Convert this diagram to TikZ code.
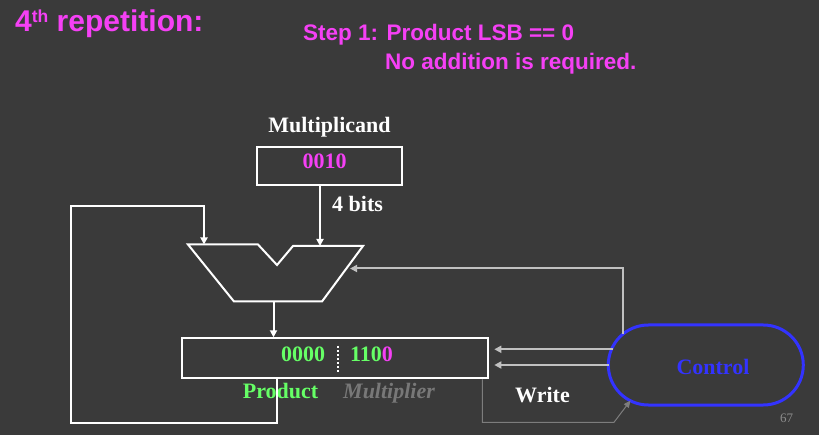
\documentclass[tikz,border=0pt]{standalone}
\usepackage{fontspec}
\setmainfont{Liberation Serif}
\newfontfamily\arialfont{Liberation Sans}
\usetikzlibrary{arrows.meta,shapes.misc}
\definecolor{bgc}{RGB}{58,58,58}
\definecolor{mag}{RGB}{245,64,245}
\definecolor{grn}{RGB}{102,255,102}
\definecolor{lgray}{RGB}{192,192,192}
\definecolor{dgray}{RGB}{125,125,125}
\definecolor{mgray}{RGB}{120,120,120}
\definecolor{ctlblue}{RGB}{51,51,255}
\definecolor{pgray}{RGB}{140,140,140}
\tikzset{
  txt/.style={inner sep=0pt,anchor=base west,font=\fontsize{22}{26}\selectfont\bfseries},
  ttl/.style={inner sep=0pt,anchor=base west,text=mag,font=\arialfont\fontsize{22.5}{27}\selectfont\bfseries},
  regbox/.style={draw=white,line width=2pt,rectangle,inner sep=0pt},
  wire/.style={draw=white,line width=2pt,-{Triangle[length=7pt,width=7pt]}},
  ctlwire/.style={draw=lgray,line width=2pt,-{Triangle[length=7pt,width=7pt]}},
  thinwire/.style={draw=dgray,line width=1pt,-{Triangle[length=7pt,width=6pt]}},
}
\begin{document}
\begin{tikzpicture}[x=1pt,y=-1pt]
\useasboundingbox (0,0) rectangle (819,435);
\fill[bgc] (0,0) rectangle (819,435);
% titles
\node[inner sep=0pt,anchor=base west,text=mag,font=\arialfont\fontsize{30}{34}\selectfont\bfseries] (title) at (15,31.5)
  {4\raisebox{9pt}{\fontsize{17.5}{18}\selectfont th} repetition:};
\node[ttl] (step1) at (303,40.5) {Step 1: Product LSB == 0};
\node[ttl] (step2) at (385,70) {No addition is required.};
% multiplicand
\node[txt,text=white,anchor=base] (mcandlbl) at (329.5,133) {Multiplicand};
\node[regbox,minimum width=145pt,minimum height=38pt] (mcand) at (329.5,166) {};
\node[txt,text=mag,anchor=base] (mcandval) at (324.7,169) {0010};
\node[txt,text=white] (bits) at (332,211.5) {4 bits};
% ALU
\coordinate (aluL) at (204,244.5);
\coordinate (aluR) at (320,246);
\coordinate (aluS) at (350,268.5);
\coordinate (aluOut) at (273.5,301.5);
\draw[white,line width=2pt,line join=miter] (188,244.5) -- (258,244.5) -- (277,265) -- (293,246) -- (363,246) -- (322,301.5) -- (234,301.5) -- cycle;
% product register
\node[regbox,minimum width=306pt,minimum height=40pt] (prod) at (335.3,358.3) {};
\node[txt,text=grn] (hi) at (281,362) {0000};
\node[txt,text=grn] (lo) at (350,362) {110\textcolor{mag}{0}};
\coordinate (sepT) at (337.7,346);
\coordinate (sepB) at (337.7,372);
\draw[white,line width=2pt,dash pattern=on 2pt off 2pt] (sepT) -- (sepB);
\node[txt,text=grn] (prodlbl) at (242.7,398) {Product};
\node[txt,text=mgray,font=\fontsize{22}{26}\selectfont\bfseries\itshape] (multlbl) at (343,398) {Multiplier};
% control
\node[draw=ctlblue,line width=3pt,rounded rectangle,minimum width=195pt,minimum height=80pt,inner sep=0pt] (ctl) at (705.8,365) {};
\node[txt,text=ctlblue,anchor=base] (ctltxt) at (713,374.5) {Control};
\node[txt,text=white] (write) at (515,402.5) {Write};
\node[inner sep=0pt,anchor=base west,text=pgray,font=\fontsize{13}{15}\selectfont] (pg) at (780,422) {67};
% connectors
\draw[wire] (mcand.south -| aluR) -- (aluR);
\draw[wire] (aluOut) -- (prod.north -| aluOut);
\coordinate (loopA) at (277,422.5);
\coordinate (loopB) at (71,422.5);
\coordinate (loopC) at (71,206.5);
\draw[wire,line join=miter] (prod.south -| loopA) -- (loopA) -- (loopB) -- (loopC) -- (loopC -| aluL) -- (aluL);
\coordinate (ctlTop) at (623.3,334);
\coordinate (ctlUp) at (623.3,268.5);
\draw[ctlwire,line join=miter] (ctlTop) -- (ctlUp) -- (aluS);
\coordinate (c1) at (612.5,349.3);
\coordinate (c2) at (608.5,365);
\draw[ctlwire] (c1) -- ([xshift=5pt]prod.east |- c1);
\draw[ctlwire] (c2) -- ([xshift=5pt]prod.east |- c2);
\coordinate (wA) at (482.3,422.3);
\coordinate (wB) at (614,422.3);
\coordinate (wC) at (630.5,400.5);
\draw[thinwire] (prod.south -| wA) -- (wA) -- (wB) -- (wC);
\end{tikzpicture}
\end{document}
